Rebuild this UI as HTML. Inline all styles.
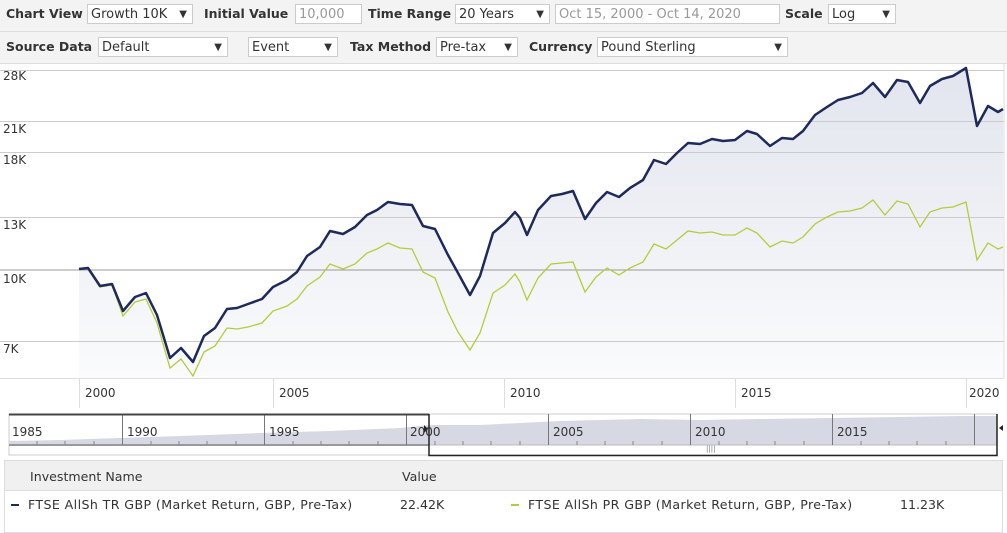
<!DOCTYPE html>
<html><head><meta charset="utf-8"><style>
body{margin:0;width:1007px;height:533px;overflow:hidden;background:#fff;font-family:"DejaVu Sans","Liberation Sans",sans-serif;font-size:13px;color:#333;position:relative}
.bar{position:absolute;left:0;width:1007px;height:31px;background:#f3f3f3;border-bottom:1px solid #ddd}
.lbl{position:absolute;font-weight:bold;font-size:12.5px;color:#333}
.box{position:absolute;height:20px;background:#fff;border:1px solid #ccc;font-size:13px;line-height:20px;padding-left:3px;box-sizing:border-box;color:#333}
.box .a{position:absolute;right:5px;font-size:10px;top:0}
.t{position:absolute;font-size:12.6px;color:#333}
</style></head><body>
<div class="bar" style="top:0"></div>
<div class="bar" style="top:32px"></div>
<div class="lbl" style="left:6px;top:6px">Chart View</div>
<div class="box" style="left:87px;top:4px;width:106px">Growth 10K <span class="a">▼</span></div>
<div class="lbl" style="left:204px;top:6px">Initial Value</div>
<div class="box" style="left:295px;top:4px;width:67px;color:#999">10,000</div>
<div class="lbl" style="left:368px;top:6px">Time Range</div>
<div class="box" style="left:455px;top:4px;width:95px">20 Years <span class="a">▼</span></div>
<div class="box" style="left:555px;top:4px;width:225px;color:#999">Oct 15, 2000 - Oct 14, 2020</div>
<div class="lbl" style="left:785px;top:6px">Scale</div>
<div class="box" style="left:828px;top:4px;width:68px">Log <span class="a">▼</span></div>
<div class="lbl" style="left:6px;top:39px">Source Data</div>
<div class="box" style="left:98px;top:37px;width:130px">Default <span class="a">▼</span></div>
<div class="box" style="left:248px;top:37px;width:90px">Event <span class="a">▼</span></div>
<div class="lbl" style="left:350px;top:39px">Tax Method</div>
<div class="box" style="left:436px;top:37px;width:82px">Pre-tax <span class="a">▼</span></div>
<div class="lbl" style="left:529px;top:39px">Currency</div>
<div class="box" style="left:597px;top:37px;width:191px">Pound Sterling <span class="a">▼</span></div>

<svg width="1007" height="533" style="position:absolute;left:0;top:0" xmlns="http://www.w3.org/2000/svg">
<defs><linearGradient id="g" x1="0" y1="0" x2="0" y2="1"><stop offset="0" stop-color="#e2e5ee"/><stop offset="1" stop-color="#fafbfc"/></linearGradient></defs>
<rect x="0" y="64" width="1004" height="314" fill="#fff"/>
<line x1="1004" y1="64" x2="1004" y2="378" stroke="#ddd"/>
<polygon fill="url(#g)" points="79,378 79,269 88,268 100,286 112,284 123,311 135,297 146,293 157,315 170,358 181,348 193,362 204,336 215,328 227,309 237,308 248,304 262,299 273,287 287,280 297,272 307,256 320,247 330,231 343,234 355,227 367,215 377,210 388,202 400,204 412,205 423,226 435,229 448,255 458,273 470,295 480,276 493,233 505,223 515,212 520,218 527,235 538,210 551,196 562,194 573,191 585,219 596,203 607,192 619,197 630,188 643,180 654,160 666,164 677,153 688,143 700,144 712,139 723,141 735,140 747,131 757,134 770,146 782,138 793,139 803,131 815,115 827,107 838,100 850,97 862,93 873,83 885,97 897,80 908,82 920,103 930,86 942,79 953,76 966,68 977,126 988,106 998,112 1003,109 1003,378"/>
<g stroke="#ccc" stroke-width="1">
<line x1="0" y1="70.5" x2="1004" y2="70.5"/><line x1="0" y1="121.5" x2="1004" y2="121.5"/><line x1="0" y1="152.5" x2="1004" y2="152.5"/><line x1="0" y1="217.5" x2="1004" y2="217.5"/><line x1="0" y1="341.5" x2="1004" y2="341.5"/>
</g>
<line x1="0" y1="270" x2="1004" y2="270" stroke="#999"/>
<g font-size="12" fill="#333" font-family="DejaVu Sans,sans-serif">
<text x="3" y="80">28K</text><text x="3" y="133">21K</text><text x="3" y="164">18K</text><text x="3" y="229">13K</text><text x="3" y="283">10K</text><text x="3" y="353">7K</text>
</g>
<polyline fill="none" stroke="#b5cc3a" stroke-width="1.3" points="79,269 88,268 100,287 112,285 123,316 135,302 146,299 157,323 170,368 181,359 193,376 204,352 215,346 227,328 237,329 248,327 262,323 273,311 287,306 297,299 307,286 320,277 330,264 343,269 355,264 367,253 377,249 388,243 400,248 412,249 423,272 435,278 448,312 458,332 470,350 480,333 493,293 505,285 515,274 520,282 527,300 538,278 551,264 562,263 573,262 585,292 596,277 607,268 619,275 630,268 643,262 654,244 666,249 677,240 688,231 700,233 712,232 723,235 735,235 747,228 757,233 770,247 782,241 793,243 803,237 815,224 827,217 838,212 850,211 862,208 873,200 885,215 897,201 908,204 920,227 930,212 942,208 953,207 966,202 977,260 988,243 998,249 1003,247"/>
<polyline fill="none" stroke="#1f2a5c" stroke-width="2.5" stroke-linejoin="round" points="79,269 88,268 100,286 112,284 123,311 135,297 146,293 157,315 170,358 181,348 193,362 204,336 215,328 227,309 237,308 248,304 262,299 273,287 287,280 297,272 307,256 320,247 330,231 343,234 355,227 367,215 377,210 388,202 400,204 412,205 423,226 435,229 448,255 458,273 470,295 480,276 493,233 505,223 515,212 520,218 527,235 538,210 551,196 562,194 573,191 585,219 596,203 607,192 619,197 630,188 643,180 654,160 666,164 677,153 688,143 700,144 712,139 723,141 735,140 747,131 757,134 770,146 782,138 793,139 803,131 815,115 827,107 838,100 850,97 862,93 873,83 885,97 897,80 908,82 920,103 930,86 942,79 953,76 966,68 977,126 988,106 998,112 1003,109"/>
<line x1="0" y1="378.5" x2="1004" y2="378.5" stroke="#ddd"/>
<g stroke="#ddd"><line x1="79.5" y1="379" x2="79.5" y2="408"/><line x1="273.5" y1="379" x2="273.5" y2="408"/><line x1="504.5" y1="379" x2="504.5" y2="408"/><line x1="735.5" y1="379" x2="735.5" y2="408"/><line x1="966.5" y1="379" x2="966.5" y2="408"/></g>
<g font-size="12" fill="#333" font-family="DejaVu Sans,sans-serif">
<text x="85" y="397">2000</text><text x="279" y="397">2005</text><text x="510" y="397">2010</text><text x="741" y="397">2015</text><text x="969" y="397">2020</text>
</g>
<!-- navigator -->
<rect x="9" y="414" width="988" height="41" fill="#fff" stroke="#ccc"/>
<polygon fill="#d6d9e3" points="9,445 9,441 60,440 120,438 180,436 260,433 330,431 400,428 430,425 480,425 520,423 560,421 640,419 700,420 760,419 830,418 900,417 960,416 997,416 997,445"/>
<line x1="9" y1="445" x2="429" y2="445" stroke="#999" stroke-width="2"/>
<line x1="429" y1="445" x2="997" y2="445" stroke="#bbb"/>
<g stroke="#777"><line x1="122.5" y1="414" x2="122.5" y2="445"/><line x1="264.5" y1="414" x2="264.5" y2="445"/><line x1="406.5" y1="414" x2="406.5" y2="445"/><line x1="548.5" y1="414" x2="548.5" y2="445"/><line x1="690.5" y1="414" x2="690.5" y2="445"/><line x1="832.5" y1="414" x2="832.5" y2="445"/><line x1="974.5" y1="414" x2="974.5" y2="445"/></g>
<g stroke="#888"><line x1="37" y1="441" x2="37" y2="445"/><line x1="65" y1="441" x2="65" y2="445"/><line x1="94" y1="441" x2="94" y2="445"/><line x1="151" y1="441" x2="151" y2="445"/><line x1="179" y1="441" x2="179" y2="445"/><line x1="207" y1="441" x2="207" y2="445"/><line x1="236" y1="441" x2="236" y2="445"/><line x1="293" y1="441" x2="293" y2="445"/><line x1="321" y1="441" x2="321" y2="445"/><line x1="349" y1="441" x2="349" y2="445"/><line x1="378" y1="441" x2="378" y2="445"/><line x1="435" y1="441" x2="435" y2="445"/><line x1="463" y1="441" x2="463" y2="445"/><line x1="491" y1="441" x2="491" y2="445"/><line x1="520" y1="441" x2="520" y2="445"/><line x1="577" y1="441" x2="577" y2="445"/><line x1="605" y1="441" x2="605" y2="445"/><line x1="633" y1="441" x2="633" y2="445"/><line x1="662" y1="441" x2="662" y2="445"/><line x1="719" y1="441" x2="719" y2="445"/><line x1="747" y1="441" x2="747" y2="445"/><line x1="775" y1="441" x2="775" y2="445"/><line x1="804" y1="441" x2="804" y2="445"/><line x1="861" y1="441" x2="861" y2="445"/><line x1="889" y1="441" x2="889" y2="445"/><line x1="917" y1="441" x2="917" y2="445"/><line x1="946" y1="441" x2="946" y2="445"/></g>
<line x1="9" y1="414.5" x2="429" y2="414.5" stroke="#444" stroke-width="2"/>
<polyline fill="none" stroke="#222" stroke-width="1.5" points="429,414 429,455.5 997,455.5 997,414"/>
<polygon points="424,425 428,429 424,433" fill="#222"/>
<polygon points="1003,425 999,428 1003,431" fill="#222"/>
<text x="706" y="451" font-size="7" fill="#777">||||</text>
<g font-size="12" fill="#333" font-family="DejaVu Sans,sans-serif">
<text x="12" y="436">1985</text><text x="127" y="436">1990</text><text x="269" y="436">1995</text><text x="410" y="436">2000</text><text x="553" y="436">2005</text><text x="695" y="436">2010</text><text x="837" y="436">2015</text>
</g>
<!-- legend table -->
<rect x="4.5" y="460.5" width="998" height="72" fill="#fff" stroke="#ddd"/>
<rect x="5" y="461" width="997" height="29" fill="#f0f0f0"/>
<line x1="5" y1="490.5" x2="1002" y2="490.5" stroke="#ddd"/>
<line x1="11" y1="505" x2="19" y2="505" stroke="#1f2a5c" stroke-width="2"/>
<line x1="511" y1="505" x2="519" y2="505" stroke="#b5cc3a" stroke-width="2"/>
</svg>
<div class="t" style="left:30px;top:469px">Investment Name</div>
<div class="t" style="left:402px;top:469px">Value</div>
<div class="t" style="left:28px;top:497px;letter-spacing:0.4px">FTSE AllSh TR GBP (Market Return, GBP, Pre-Tax)</div>
<div class="t" style="left:400px;top:497px">22.42K</div>
<div class="t" style="left:528px;top:497px;letter-spacing:0.4px">FTSE AllSh PR GBP (Market Return, GBP, Pre-Tax)</div>
<div class="t" style="left:900px;top:497px">11.23K</div>
</body></html>
